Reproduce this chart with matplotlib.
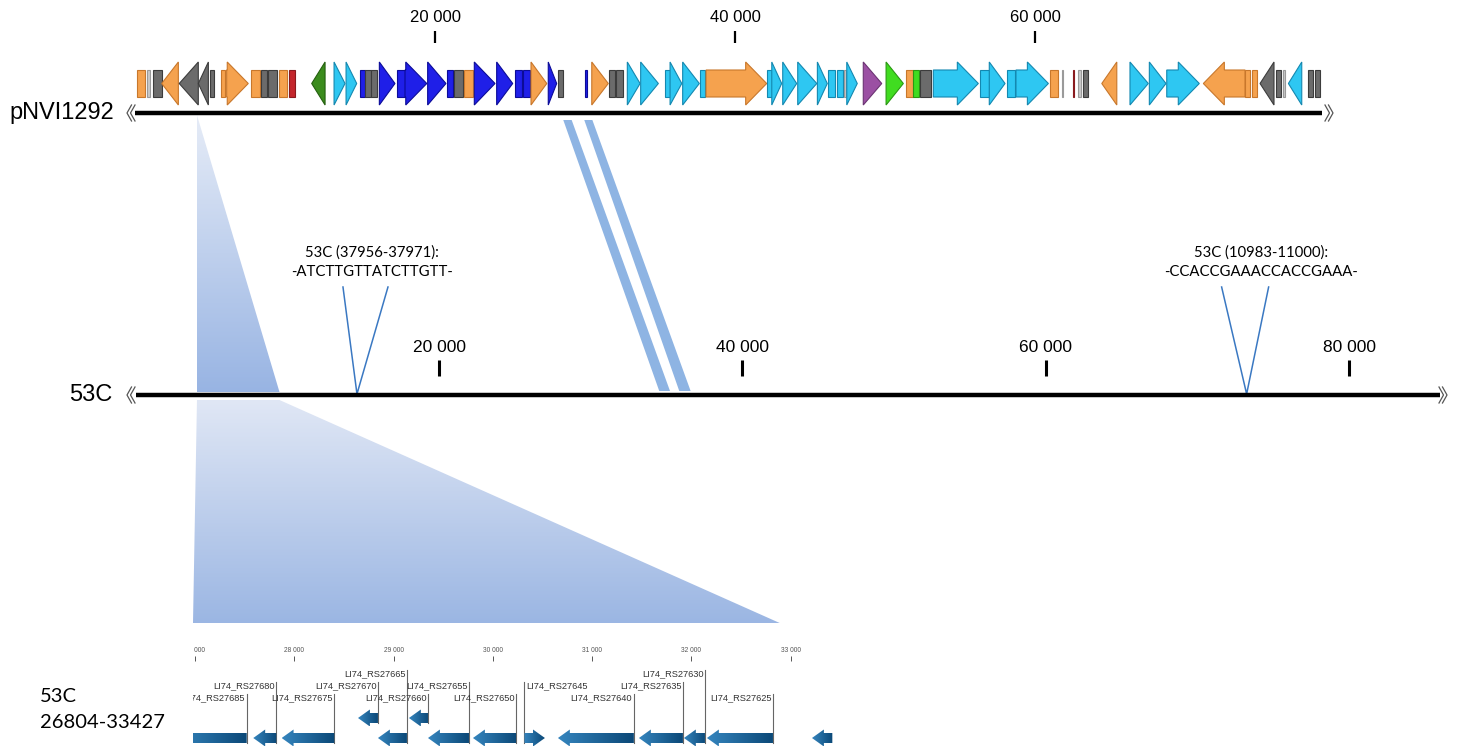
import numpy as np
import matplotlib
matplotlib.use("Agg")
import matplotlib.pyplot as plt
from matplotlib.patches import Polygon
from matplotlib.colors import LinearSegmentedColormap
from matplotlib.transforms import offset_copy

W, H = 1457, 748

# pNVI1292 plasmid, top track (bp)
top_len = 79130
top_ticks = [20000, 40000, 60000]
top_start = [150, 780, 1180, 1780, 2950, 4220, 5000, 5710, 6110, 7710, 8380, 8890, 9600, 10290,
             11780, 13270, 14070, 15000, 15330, 15750, 16290, 17450, 18000, 19510, 20780, 21270,
             21950, 22620, 24110, 25330, 25850, 26400, 27550, 28220, 30000, 30450, 31620, 32070,
             32820, 33710, 35330, 35670, 36510, 37670, 38070, 42150, 42450, 43180, 44180, 45490,
             46220, 46780, 47270, 47450, 48550, 50070, 51400, 51890, 52330, 53220, 56330, 56950,
             58110, 58730, 61000, 61780, 62510, 62870, 63180, 64450, 66330, 67620, 68780, 71220,
             74000, 74450, 75000, 76070, 76550, 76890, 78220, 78670]
top_end = [670, 1000, 1780, 2890, 4220, 4890, 5270, 6000, 7550, 8330, 8780, 9450, 10110, 10670,
           12670, 14000, 14780, 15330, 15700, 16110, 17330, 18000, 19450, 20730, 21180, 21890,
           22510, 24000, 25180, 25780, 26330, 27450, 28110, 28550, 30130, 31550, 32000, 32550,
           33670, 34890, 35670, 36450, 37620, 38000, 42110, 42450, 43110, 44110, 45450, 46150,
           46670, 47180, 47400, 48150, 49780, 51220, 51890, 52290, 53050, 56220, 56950, 58000,
           58670, 60890, 61550, 61890, 62600, 63050, 63550, 65450, 67550, 68730, 70950, 74000,
           74330, 74820, 75930, 76380, 76670, 77780, 78550, 79000]
top_strand = [0, 0, 0, -1, -1, -1, 0, 0, 1, 0, 0, 0, 0, 0,
              -1, 1, 1, 0, 0, 0, 1, 0, 1, 1, 0, 0,
              0, 1, 1, 0, 0, 1, 1, 0, 0, 1, 0, 0,
              1, 1, 0, 1, 1, 0, 1, 0, 1, 1, 1, 1,
              0, 0, 0, 1, 1, 1, 0, 0, 0, 1, 0, 1,
              0, 1, 0, 0, 0, 0, 0, -1, 1, 1, 1, -1,
              0, 0, -1, 0, 0, -1, 0, 0]
top_kind = ['O', 'L', 'G', 'O', 'G', 'G', 'G', 'O', 'O', 'O', 'G', 'G', 'O', 'R',
            'DG', 'C', 'C', 'B', 'G', 'G', 'B', 'B', 'B', 'B', 'B', 'G',
            'O', 'B', 'B', 'B', 'B', 'O', 'B', 'G', 'B', 'O', 'G', 'G',
            'C', 'C', 'C', 'C', 'C', 'C', 'O', 'C', 'C', 'C', 'C', 'C',
            'C', 'C', 'L', 'C', 'P', 'LG', 'O', 'LG', 'G', 'C', 'C', 'C',
            'C', 'C', 'O', 'L', 'R', 'L', 'G', 'O', 'C', 'C', 'C', 'O',
            'O', 'O', 'G', 'G', 'L', 'C', 'G', 'G']

# 53C chromosome region, middle track (bp)
c53_len = 86000
c53_ticks = [20000, 40000, 60000, 80000]
ins_site = [14590, 73250]
ins_title = ["53C (37956-37971):", "53C (10983-11000):"]
ins_seq = ["-ATCTTGTTATCTTGTT-", "-CCACCGAAACCACCGAAA-"]

# matching blocks top <-> 53C
link_top = [(28550, 29110), (29950, 30490)]
link_c53 = [(34520, 35230), (35840, 36590)]

# zoomed region
zoom_top_site = 4130
zoom_c53 = (4040, 9480)
zoom_view = (26980, 32890)

# 53C 26804-33427 detail (bp)
det_ticks = [27000, 28000, 29000, 30000, 31000, 32000, 33000]
det_name = ['LI74_RS27685', 'LI74_RS27680', 'LI74_RS27675', 'LI74_RS27670', 'LI74_RS27665',
            'LI74_RS27660', 'LI74_RS27655', 'LI74_RS27650', 'LI74_RS27645', 'LI74_RS27640',
            'LI74_RS27635', 'LI74_RS27630', 'LI74_RS27625', '']
det_start = [26800, 27587, 27873, 28642, 28843, 29155, 29347, 29800, 30319, 30656, 31472, 31925, 32157, 33215]
det_end = [27521, 27819, 28403, 28843, 29135, 29347, 29760, 30234, 30525, 31421, 31915, 32137, 32822, 33420]
det_strand = [-1, -1, -1, -1, -1, -1, -1, -1, 1, -1, -1, -1, -1, -1]
det_lane = [0, 0, 0, 1, 0, 1, 0, 0, 0, 0, 0, 0, 0, 0]
det_row = [3, 2, 3, 2, 1, 3, 2, 3, 2, 3, 2, 1, 3, 0]

colors = {'O': ('#f5a24e', '#c8772b'), 'G': ('#6b6b6b', '#3c3c3c'), 'L': ('#c9c9c9', '#9a9a9a'),
          'R': ('#c4262c', '#8a1a1e'), 'DG': ('#3b8c1d', '#245f0f'), 'C': ('#2ec7f2', '#1488b0'),
          'B': ('#1f1fe8', '#0c0c98'), 'P': ('#9b50a3', '#6b3473'), 'LG': ('#40dc20', '#2a9813')}


def gene_verts(s, e, strand, yc, bh, hh, hl):
    hl = min(e - s, hl)
    if strand == 0:
        return [(s, yc - bh / 2), (e, yc - bh / 2), (e, yc + bh / 2), (s, yc + bh / 2)]
    if strand == 1:
        return [(s, yc - bh / 2), (e - hl, yc - bh / 2), (e - hl, yc - hh / 2), (e, yc),
                (e - hl, yc + hh / 2), (e - hl, yc + bh / 2), (s, yc + bh / 2)]
    return [(e, yc - bh / 2), (s + hl, yc - bh / 2), (s + hl, yc - hh / 2), (s, yc),
            (s + hl, yc + hh / 2), (s + hl, yc + bh / 2), (e, yc + bh / 2)]


def grad_fill(ax, verts, c0, c1, horizontal=False, z=1):
    poly = Polygon(verts, closed=True, fc='none', ec='none')
    ax.add_patch(poly)
    xs = [v[0] for v in verts]
    ys = [v[1] for v in verts]
    g = np.linspace(0, 1, 256)
    g = g.reshape(1, -1) if horizontal else g.reshape(-1, 1)
    cmap = LinearSegmentedColormap.from_list('g', [c0, c1])
    im = ax.imshow(g, cmap=cmap, extent=(min(xs), max(xs), max(ys), min(ys)), aspect='auto',
                   origin='upper', interpolation='bilinear', zorder=z)
    im.set_clip_path(poly)


fig = plt.figure(figsize=(W / 100, H / 100), dpi=100)
ov = fig.add_axes([0, 0, 1, 1], zorder=1)
ov.set_xlim(0, W)
ov.set_ylim(H, 0)
ov.axis('off')


def px_axes(x0, x1, y0, y1, xlim):
    ax = fig.add_axes([x0 / W, 1 - y1 / H, (x1 - x0) / W, (y1 - y0) / H], zorder=2)
    ax.set_xlim(*xlim)
    ax.set_ylim(y1, y0)
    ax.axis('off')
    return ax


ax_top = px_axes(135, 1322, 0, 130, (0, top_len))
ax_mid = px_axes(135.7, 1440, 230, 410, (0, c53_len))
ax_det = px_axes(193, 835, 640, 748, (26980, 33447))


def to_ov(ax, x, y):
    d = ax.transData.transform((x, y))
    return tuple(ov.transData.inverted().transform(d))


# --- connectors
p0 = to_ov(ax_top, zoom_top_site, 115)
pa = to_ov(ax_mid, zoom_c53[0], 392)
pb = to_ov(ax_mid, zoom_c53[1], 392)
grad_fill(ov, [p0, pb, pa], '#e6ecf7', '#98b4e3')
q1 = to_ov(ax_mid, zoom_c53[0], 400)
q2 = to_ov(ax_mid, zoom_c53[1], 400)
q3 = to_ov(ax_det, zoom_view[1], 623)
q4 = to_ov(ax_det, zoom_view[0], 623)
grad_fill(ov, [q1, q2, q3, q4], '#e0e7f5', '#9bb6e3')
for (a, b), (c, d) in zip(link_top, link_c53):
    ov.add_patch(Polygon([to_ov(ax_top, a, 120), to_ov(ax_top, b, 120),
                          to_ov(ax_mid, d, 391), to_ov(ax_mid, c, 391)],
                         closed=True, fc='#8eb4e3', ec='none', zorder=2))
ov.set_xlim(0, W)
ov.set_ylim(H, 0)

# --- top track
ax_top.plot([0, top_len], [113, 113], color='black', lw=3.2, solid_capstyle='butt')
ax_top.vlines(top_ticks, 31, 43, color='black', lw=1.6)
for t in top_ticks:
    ax_top.text(t, 17, f"{t // 1000} 000", ha='center', va='center', fontsize=12,
                family='Liberation Sans')
for s, e, st, k in zip(top_start, top_end, top_strand, top_kind):
    fc, ec = colors[k]
    ax_top.add_patch(Polygon(gene_verts(s, e, st, 83.5, 27, 43, 1400), closed=True,
                             fc=fc, ec=ec, lw=0.8, joinstyle='miter'))

# --- 53C track
ax_mid.plot([0, c53_len], [395, 395], color='black', lw=3.2, solid_capstyle='butt')
ax_mid.vlines(c53_ticks, 360, 376, color='black', lw=2.2)
for t in c53_ticks:
    ax_mid.text(t, 347, f"{t // 1000} 000", ha='center', va='center', fontsize=12.5,
                family='Liberation Sans')

v_spread = [(-14, 31), (-25, 22)]
text_shift = [15, 14]
for site, (dl, dr), ts, t1, t2 in zip(ins_site, v_spread, text_shift, ins_title, ins_seq):
    ax_, ay_ = to_ov(ax_mid, site, 394)
    ov.plot([ax_ + dl, ax_, ax_ + dr], [287, ay_, 287], color='#3a78c2', lw=1.1, zorder=3)
    ov.text(ax_ + ts, 252.5, t1, ha='center', va='center', fontsize=10.7, family='Lato')
    ov.text(ax_ + ts, 272, t2, ha='center', va='center', fontsize=10.7, family='Lato')

# --- track names and end marks
ov.text(114, 113, "pNVI1292", ha='right', va='center', fontsize=17, family='Liberation Sans')
ov.text(112, 395, "53C", ha='right', va='center', fontsize=17, family='Liberation Sans')
for x0, y0, d in [(127, 113, 1), (1333, 113, -1), (127, 395, 1), (1447, 395, -1)]:
    for k in (0, 3.5):
        xa = x0 + d * k
        ov.plot([xa + d * 4.5, xa, xa + d * 4.5], [y0 - 8, y0, y0 + 8], color='#555555',
                lw=0.9, zorder=3)

ov.text(40, 696.5, "53C", ha='left', va='center', fontsize=14.5, family='Lato')
ov.text(40, 722, "26804-33427", ha='left', va='center', fontsize=14.5, family='Lato')

# --- detail track
ax_det.vlines(det_ticks, 656, 661, color='#555555', lw=0.7)
for t in det_ticks:
    ax_det.text(t, 650.5, f"{t // 1000} 000", ha='center', va='center', fontsize=4.8,
                color='#555555', family='Liberation Sans', clip_on=True)

lane_y = {0: 738, 1: 718}
row_y = {1: 674, 2: 686, 3: 698}
left_off = offset_copy(ax_det.transData, fig=fig, x=-1.5, y=0, units='dots')
right_off = offset_copy(ax_det.transData, fig=fig, x=1.5, y=0, units='dots')
for nm, s, e, st, ln, rw in zip(det_name, det_start, det_end, det_strand, det_lane, det_row):
    yc = lane_y[ln]
    grad_fill(ax_det, gene_verts(s, e, st, yc, 10, 17, 120), '#3585be', '#0b4877',
              horizontal=True, z=3)
    if nm:
        xl = e if st == -1 else s
        ry = row_y[rw]
        ax_det.plot([xl, xl], [ry - 4.5, yc + 5], color='#666666', lw=0.8, zorder=2)
        if st == -1:
            ax_det.text(xl, ry, nm, ha='right', va='center', fontsize=6.7, color='#333333',
                        family='Liberation Sans', clip_on=True, transform=left_off)
        else:
            ax_det.text(xl, ry, nm, ha='left', va='center', fontsize=6.7, color='#333333',
                        family='Liberation Sans', clip_on=True, transform=right_off)
ax_det.set_xlim(26980, 33447)
ax_det.set_ylim(748, 640)

fig.savefig('out.png', dpi=100)
